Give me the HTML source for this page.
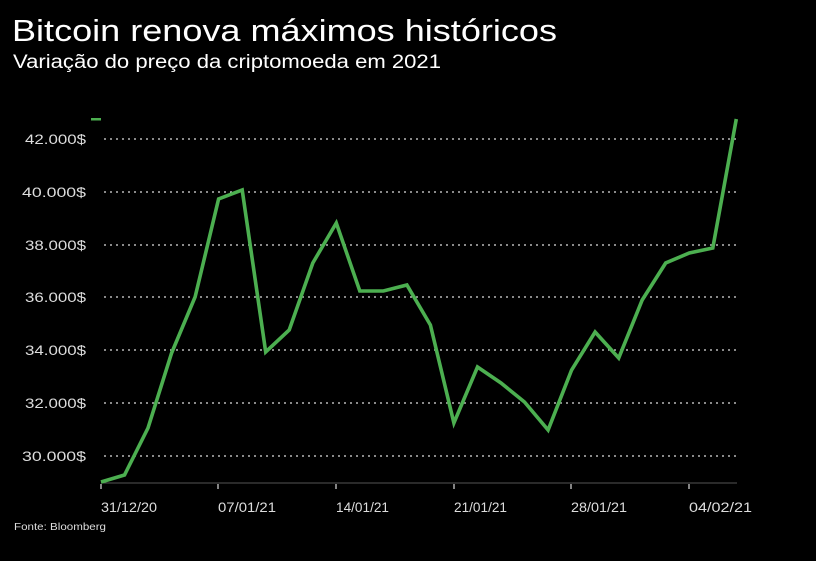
<!DOCTYPE html>
<html><head><meta charset="utf-8"><style>
body{margin:0;background:#000;width:816px;height:561px;overflow:hidden;font-family:"Liberation Sans",sans-serif;color:#fff}
</style></head><body>
<svg width="816" height="561" xmlns="http://www.w3.org/2000/svg" style="position:absolute;left:0;top:0">
<text x="12" y="41" font-size="31" fill="#fff" font-family="Liberation Sans, sans-serif" textLength="545" lengthAdjust="spacingAndGlyphs">Bitcoin renova máximos históricos</text>
<text x="13" y="68" font-size="19" fill="#fff" font-family="Liberation Sans, sans-serif" textLength="428" lengthAdjust="spacingAndGlyphs">Variação do preço da criptomoeda em 2021</text>
<rect x="91" y="118" width="10" height="2.5" fill="#4caf50"/>
<g stroke="#ddd" stroke-width="1.3" stroke-dasharray="2,4">
<line x1="104" y1="139" x2="737" y2="139"/>
<line x1="104" y1="192" x2="737" y2="192"/>
<line x1="104" y1="245" x2="737" y2="245"/>
<line x1="104" y1="297" x2="737" y2="297"/>
<line x1="104" y1="350" x2="737" y2="350"/>
<line x1="104" y1="403" x2="737" y2="403"/>
<line x1="104" y1="456" x2="737" y2="456"/>
</g>
<g font-size="14" fill="#ddd" font-family="Liberation Sans, sans-serif">
<text x="25" y="144" textLength="61" lengthAdjust="spacingAndGlyphs">42.000$</text>
<text x="22" y="197" textLength="64" lengthAdjust="spacingAndGlyphs">40.000$</text>
<text x="25" y="250" textLength="61" lengthAdjust="spacingAndGlyphs">38.000$</text>
<text x="25" y="302" textLength="61" lengthAdjust="spacingAndGlyphs">36.000$</text>
<text x="25" y="355" textLength="61" lengthAdjust="spacingAndGlyphs">34.000$</text>
<text x="25" y="408" textLength="61" lengthAdjust="spacingAndGlyphs">32.000$</text>
<text x="22" y="461" textLength="64" lengthAdjust="spacingAndGlyphs">30.000$</text>
</g>
<line x1="101" y1="483" x2="737" y2="483" stroke="#555" stroke-width="1"/>
<g stroke="#ddd" stroke-width="1.2">
<line x1="101" y1="484" x2="101" y2="489"/><line x1="218" y1="484" x2="218" y2="489"/>
<line x1="336" y1="484" x2="336" y2="489"/><line x1="454" y1="484" x2="454" y2="489"/>
<line x1="571" y1="484" x2="571" y2="489"/><line x1="689" y1="484" x2="689" y2="489"/>
</g>
<g font-size="14" fill="#ddd" font-family="Liberation Sans, sans-serif">
<text x="101" y="512" textLength="56" lengthAdjust="spacingAndGlyphs">31/12/20</text><text x="218" y="512" textLength="58" lengthAdjust="spacingAndGlyphs">07/01/21</text>
<text x="336" y="512" textLength="53" lengthAdjust="spacingAndGlyphs">14/01/21</text><text x="454" y="512" textLength="53" lengthAdjust="spacingAndGlyphs">21/01/21</text>
<text x="571" y="512" textLength="56" lengthAdjust="spacingAndGlyphs">28/01/21</text><text x="689" y="512" textLength="63" lengthAdjust="spacingAndGlyphs">04/02/21</text>
</g>
<text x="14" y="530" font-size="10.5" fill="#ddd" font-family="Liberation Sans, sans-serif" textLength="92" lengthAdjust="spacingAndGlyphs">Fonte: Bloomberg</text>
<polyline fill="none" stroke="#4caf50" stroke-width="3.6" stroke-linejoin="miter" points="101,482 124.5,475 148,428 171.6,353 195.1,297 218.6,199 242.2,190 265.7,352 289.2,330 312.8,263 336.3,223 359.8,291 383.4,291 406.9,285 430.4,325 453.9,423 477.5,367 501,383 524.5,402 548.1,430 571.6,370 595.1,332 618.7,358 642.2,300 665.7,263 689.3,253 712.8,248 736.3,119"/>
</svg>
</body></html>
